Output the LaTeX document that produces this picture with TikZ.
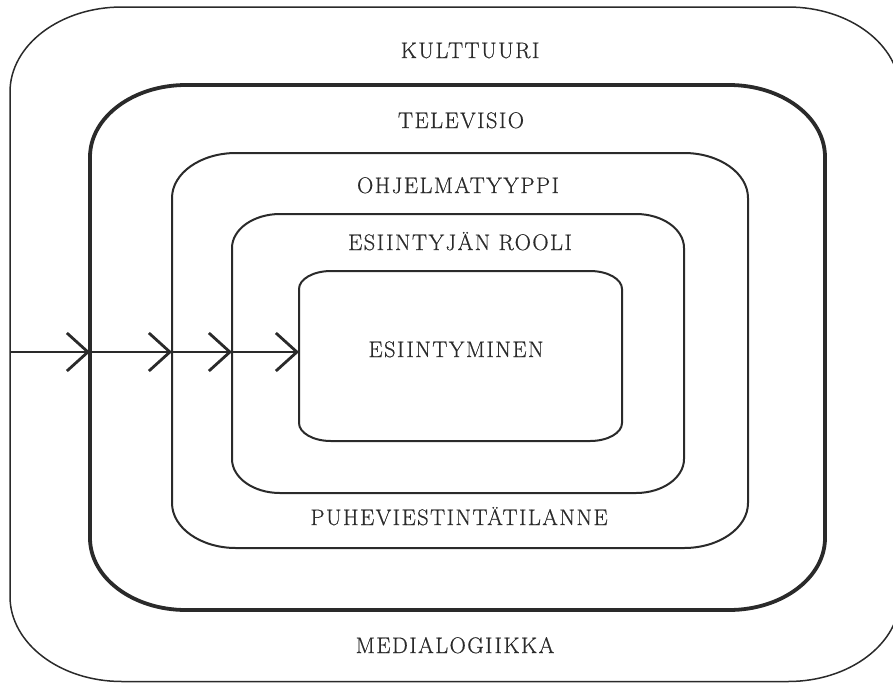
\documentclass[tikz,border=0pt]{standalone}
\usepackage{fontspec}
\usetikzlibrary{arrows.meta}
\newfontfamily\lblfont{Latin Modern Roman}[LetterSpace=6.5,FakeBold=0.6]
\definecolor{ink}{HTML}{2A2A2A}
% rounded box with elliptical corners: #1 style, #2 left, #3 top, #4 right, #5 bottom, #6 x radius, #7 y radius
\newcommand\ellbox[7]{%
  \draw[#1] (#2,#3+#7)
    arc[start angle=180,end angle=270,x radius=#6,y radius=#7]
    -- (#4-#6,#3)
    arc[start angle=270,end angle=360,x radius=#6,y radius=#7]
    -- (#4,#5-#7)
    arc[start angle=0,end angle=90,x radius=#6,y radius=#7]
    -- (#2+#6,#5)
    arc[start angle=90,end angle=180,x radius=#6,y radius=#7]
    -- cycle;}
\tikzset{
  frame/.style={draw=ink,line width=#1},
  label/.style={anchor=base,inner sep=0pt,text=ink,
    font=\lblfont\fontsize{22.5}{27}\selectfont},
  flow/.style={draw=ink,line width=1.5pt,
    -{Straight Barb[length=21pt,width=38pt,line width=2.8pt]}}
}
\begin{document}
\begin{tikzpicture}[x=1pt,y=-1pt]
\clip (0,0) rectangle (893,683);
% nested layers
\ellbox{frame=1.5pt}{10}{7}{900}{681.5}{112}{85}
\ellbox{frame=3.8pt}{90}{85}{825}{610}{96}{72}
\ellbox{frame=2pt}{172}{153}{748}{548}{64}{45}
\ellbox{frame=2pt}{232}{214}{684}{493}{48}{34}
\ellbox{frame=2pt}{299}{271}{622}{441}{32}{18}
% layer names
\node[label] (kulttuuri) at (470,58) {KULTTUURI};
\node[label] (televisio) at (461,128) {TELEVISIO};
\node[label] (ohjelma) at (458,193) {OHJELMATYYPPI};
\node[label] (rooli) at (460,250) {ESIINTYJÄN ROOLI};
\node[label] (esiintyminen) at (456,357) {ESIINTYMINEN};
\node[label] (puhe) at (459,525) {PUHEVIESTINTÄTILANNE};
\node[label] (media) at (455,653) {MEDIALOGIIKKA};
% entry points on the left edges of the layers
\coordinate (start) at (10,352);
\coordinate (tv) at (90,352);
\coordinate (prog) at (172,352);
\coordinate (role) at (232,352);
\coordinate (perf) at (299,352);
\draw[flow] (start) -- (tv);
\draw[flow] (tv) -- (prog);
\draw[flow] (prog) -- (role);
\draw[flow] (role) -- (perf);
\end{tikzpicture}
\end{document}
